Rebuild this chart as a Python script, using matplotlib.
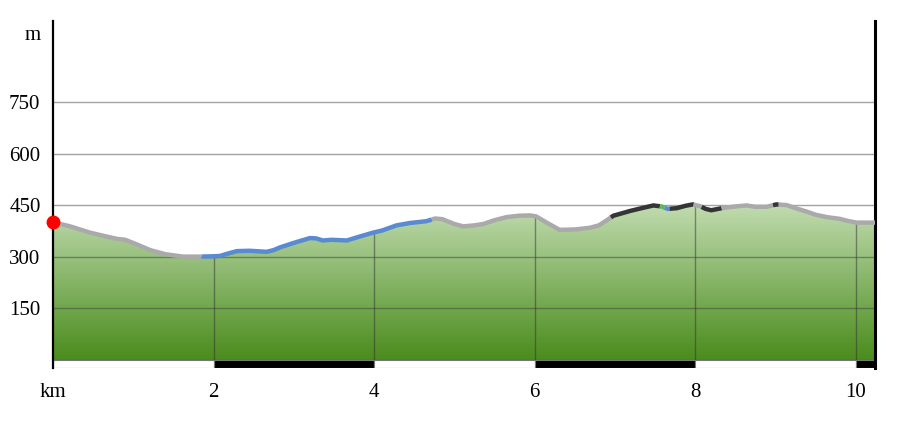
import numpy as np
import matplotlib
matplotlib.use("Agg")
import matplotlib.pyplot as plt
from matplotlib.colors import LinearSegmentedColormap
from matplotlib.patches import Rectangle, Polygon

plt.rcParams['font.family'] = ['Liberation Serif', 'DejaVu Serif']

# ---- data ----
dist_km = [0.00, 0.20, 0.46, 0.62, 0.79, 0.90, 1.05, 1.21, 1.40, 1.62, 1.83,
           2.00, 2.08, 2.18, 2.29, 2.45, 2.66, 2.75, 2.83, 3.00, 3.20, 3.28, 3.36,
           3.47, 3.57, 3.66, 3.80, 3.99, 4.10, 4.28, 4.45, 4.65, 4.76, 4.85, 5.00,
           5.11, 5.25, 5.36, 5.50, 5.65, 5.80, 5.94, 6.02, 6.15, 6.31, 6.50, 6.69,
           6.80, 6.90, 6.98, 7.19, 7.35, 7.48, 7.58, 7.66, 7.77, 7.88, 7.97, 8.06,
           8.13, 8.20, 8.33, 8.50, 8.64, 8.75, 8.89, 9.01, 9.14, 9.25, 9.39, 9.50,
           9.64, 9.80, 9.90, 10.01, 10.24]
elev_m = [401, 390, 371, 362, 353, 350, 336, 320, 308, 301, 301,
          302, 303, 310, 317, 318, 315, 320, 328, 341, 355, 354, 348,
          350, 349, 348, 358, 371, 377, 392, 399, 404, 412, 410, 396,
          389, 392, 396, 407, 416, 420, 421, 418, 400, 379, 380, 385,
          392, 407, 420, 434, 443, 450, 447, 440, 442, 449, 453, 448,
          440, 436, 442, 447, 450, 446, 446, 453, 451, 442, 432, 423,
          416, 411, 405, 400, 400]

seg_start = [0.00, 1.85, 4.72, 6.95, 7.56, 7.62, 7.68, 7.98, 8.08, 8.33, 8.97, 9.04]
seg_end   = [1.85, 4.72, 6.95, 7.56, 7.62, 7.68, 7.98, 8.08, 8.33, 8.97, 9.04, 10.24]
seg_type  = ['gray', 'blue', 'gray', 'black', 'green', 'blue', 'black', 'gray',
             'black', 'gray', 'black', 'gray']

y_ticks = [150, 300, 450, 600, 750]
x_ticks = [0, 2, 4, 6, 8, 10]
x_labels = ['km', '2', '4', '6', '8', '10']

type_colors = {'gray': '#aaaaaa', 'blue': '#5a8ad2', 'black': '#353535', 'green': '#5cb85c'}

x = np.array(dist_km)
y = np.array(elev_m)
xmax = x[-1]
ymin, ymax = -23.3, 987

fig = plt.figure(figsize=(9, 4.21), dpi=100)
ax = fig.add_axes([53/900, 53/421, (875-53)/900, (368-21)/421])

# gradient fill clipped to profile
cmap = LinearSegmentedColormap.from_list('g', ['#4a8c1c', '#c6dfb6'])
grad = np.linspace(0, 1, 256).reshape(-1, 1)
im = ax.imshow(grad, cmap=cmap, origin='lower', aspect='auto',
               extent=[0, xmax, 0, 470], zorder=1)
poly = Polygon(np.column_stack([np.r_[x, xmax, 0], np.r_[y, 0, 0]]),
               closed=True, facecolor='none', edgecolor='none')
ax.add_patch(poly)
im.set_clip_path(poly)
ax.set_xlim(0, xmax)
ax.set_ylim(ymin, ymax)

# horizontal grid
for v in y_ticks:
    ax.axhline(v, color='#333333', alpha=0.45, lw=1.0, zorder=2)
ax.axhline(0, color='#2f6a12', alpha=0.6, lw=1.0, zorder=2)
# vertical grid inside fill
for t in x_ticks[1:]:
    ax.plot([t, t], [0, np.interp(t, x, y)], color='#333333', alpha=0.5, lw=1.0, zorder=2)

# profile line segments
for s, e, tp in zip(seg_start, seg_end, seg_type):
    m = (x > s) & (x < e)
    xs = np.r_[s, x[m], e]
    ys = np.interp(xs, x, y)
    ax.plot(xs, ys, color=type_colors[tp], lw=3.2, solid_capstyle='butt',
            solid_joinstyle='round', zorder=3)

# start marker
ax.plot([x[0]], [y[0]], 'o', color='#ff0000', ms=9, zorder=5, clip_on=False)

# distance strip
for i, t in enumerate(range(0, 12, 2)):
    w = min(2, xmax - t)
    ax.add_patch(Rectangle((t, ymin), w, -ymin,
                           facecolor='white' if i % 2 == 0 else 'black',
                           edgecolor='#777777', lw=0.8, zorder=2))

# spines
for s in ['top', 'bottom']:
    ax.spines[s].set_visible(False)
ax.spines['left'].set_color('black')
ax.spines['left'].set_linewidth(1.6)
ax.spines['right'].set_color('black')
ax.spines['right'].set_linewidth(2.2)

ax.set_yticks(y_ticks + [952])
ax.set_yticklabels([str(v) for v in y_ticks] + ['m'])
ax.set_xticks(x_ticks)
ax.set_xticklabels(x_labels)
ax.tick_params(axis='y', length=0, pad=9, labelsize=15)
ax.tick_params(axis='x', length=0, pad=11, labelsize=15)

fig.savefig('out.png', dpi=100)
